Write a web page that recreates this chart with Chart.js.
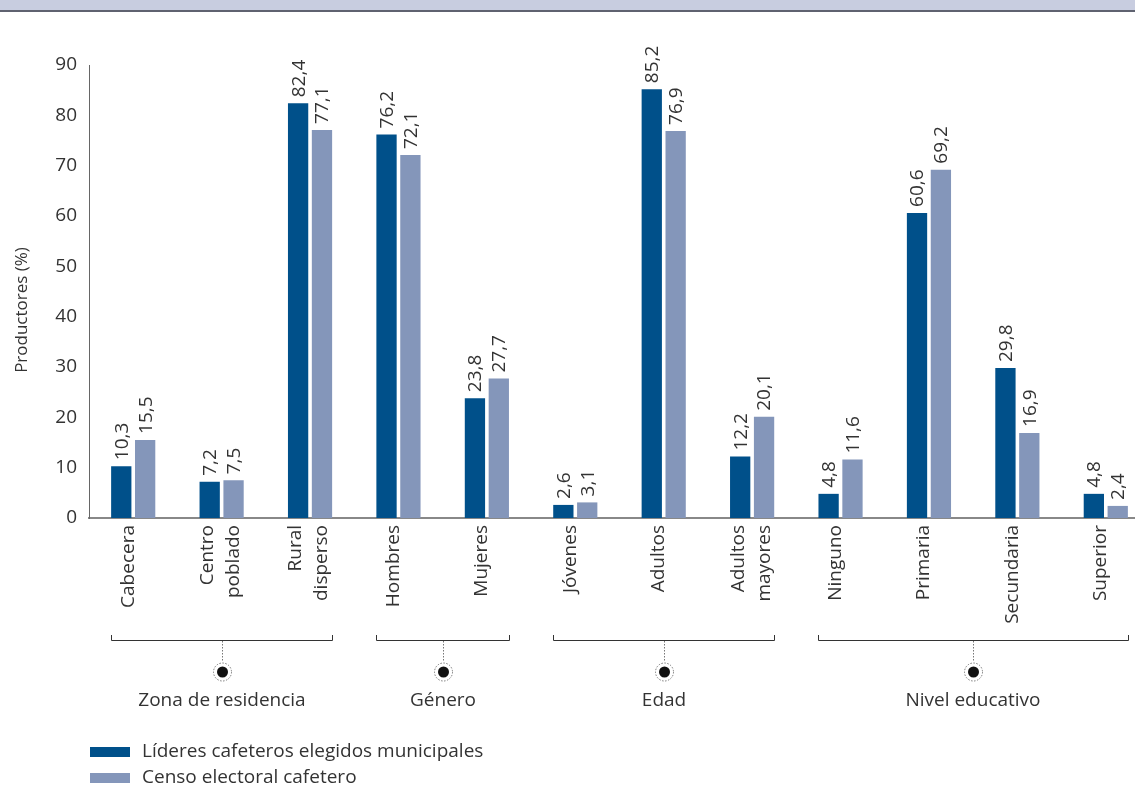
<!DOCTYPE html>
<html>
<head>
<meta charset="utf-8">
<script src="https://cdn.jsdelivr.net/npm/chart.js@4"></script>
<style>
  html, body { margin: 0; padding: 0; background: #fff; overflow: hidden; }
  #wrap { position: relative; width: 1135px; height: 793px; overflow: hidden; }
  #banda { position: absolute; left: 0; top: 0; width: 1135px; height: 10px; background: #c8cde0; border-bottom: 2px solid #5f6270; }
  #Chart { position: absolute; left: 0; top: 0; }
</style>
</head>
<body>
<div id="wrap">
  <canvas id="Chart" width="1150" height="793"></canvas>
  <div id="banda"></div>
</div>
<script>
const categorias = [
  ["Cabecera"], ["Centro", "poblado"], ["Rural", "disperso"],
  ["Hombres"], ["Mujeres"],
  ["Jóvenes"], ["Adultos"], ["Adultos", "mayores"],
  ["Ninguno"], ["Primaria"], ["Secundaria"], ["Superior"],
];
const lideres = [10.3, 7.2, 82.4, 76.2, 23.8, 2.6, 85.2, 12.2, 4.8, 60.6, 29.8, 4.8];
const censo = [15.5, 7.5, 77.1, 72.1, 27.7, 3.1, 76.9, 20.1, 11.6, 69.2, 16.9, 2.4];
const grupos = [
  { nombre: "Zona de residencia", desde: 0, hasta: 2 },
  { nombre: "Género", desde: 3, hasta: 4 },
  { nombre: "Edad", desde: 5, hasta: 7 },
  { nombre: "Nivel educativo", desde: 8, hasta: 11 },
];
const yTicks = [0, 10, 20, 30, 40, 50, 60, 70, 80, 90];
const tituloY = "Productores (%)";

const fuente = "'Open Sans', 'Noto Sans', sans-serif";
const colorTexto = "#333";
const azulOscuro = "#00508a";
const azulClaro = "#8496ba";

// valores encima de las barras, en vertical
const etiquetasBarras = {
  id: "etiquetasBarras",
  afterDatasetsDraw(chart) {
    const ctx = chart.ctx;
    ctx.save();
    ctx.font = "19px " + fuente;
    ctx.fillStyle = colorTexto;
    ctx.textAlign = "left";
    ctx.textBaseline = "middle";
    chart.data.datasets.forEach((ds, i) => {
      chart.getDatasetMeta(i).data.forEach((bar, j) => {
        const txt = ds.data[j].toFixed(1).replace(".", ",");
        ctx.save();
        ctx.translate(bar.x + 1, bar.y - 6);
        ctx.rotate(-Math.PI / 2);
        ctx.fillText(txt, 0, 0);
        ctx.restore();
      });
    });
    ctx.restore();
  },
};

// etiquetas del eje x (verticales) y titulo del eje y
const textosEjes = {
  id: "textosEjes",
  afterDraw(chart) {
    const ctx = chart.ctx;
    const xs = chart.scales.x;
    ctx.save();
    ctx.fillStyle = colorTexto;
    ctx.font = "19px " + fuente;
    ctx.textAlign = "right";
    ctx.textBaseline = "middle";
    categorias.forEach((lineas, i) => {
      const xc = xs.getPixelForTick(i);
      const desp = lineas.length === 1 ? [-5] : [-14, 12];
      lineas.forEach((t, k) => {
        ctx.save();
        ctx.translate(xc + desp[k], chart.chartArea.bottom + 7);
        ctx.rotate(-Math.PI / 2);
        ctx.fillText(t, 0, 0);
        ctx.restore();
      });
    });
    ctx.font = "17px " + fuente;
    ctx.textAlign = "center";
    ctx.save();
    ctx.translate(22, 310);
    ctx.rotate(-Math.PI / 2);
    ctx.fillText(tituloY, 0, 0);
    ctx.restore();
    ctx.restore();
  },
};

// llaves de grupo, punto y leyenda
const decoracion = {
  id: "decoracion",
  afterDraw(chart) {
    const ctx = chart.ctx;
    const m0 = chart.getDatasetMeta(0).data;
    const m1 = chart.getDatasetMeta(1).data;
    const yLinea = 640;
    ctx.save();
    grupos.forEach((g) => {
      const x1 = Math.round(m0[g.desde].x - m0[g.desde].width / 2);
      const x2 = Math.round(m1[g.hasta].x + m1[g.hasta].width / 2);
      const xc = Math.round((x1 + x2) / 2);
      ctx.strokeStyle = "#333";
      ctx.lineWidth = 1;
      ctx.setLineDash([]);
      ctx.beginPath();
      ctx.moveTo(x1 + 0.5, yLinea - 5);
      ctx.lineTo(x1 + 0.5, yLinea + 0.5);
      ctx.lineTo(x2 + 0.5, yLinea + 0.5);
      ctx.lineTo(x2 + 0.5, yLinea - 5);
      ctx.stroke();
      ctx.strokeStyle = "#777";
      ctx.setLineDash([1.5, 1.5]);
      ctx.beginPath();
      ctx.moveTo(xc + 0.5, yLinea + 1);
      ctx.lineTo(xc + 0.5, 662);
      ctx.stroke();
      ctx.beginPath();
      ctx.arc(xc + 0.5, 672, 9, 0, Math.PI * 2);
      ctx.stroke();
      ctx.setLineDash([]);
      ctx.fillStyle = "#111";
      ctx.beginPath();
      ctx.arc(xc + 0.5, 672, 5.5, 0, Math.PI * 2);
      ctx.fill();
      ctx.fillStyle = colorTexto;
      ctx.font = "19px " + fuente;
      ctx.textAlign = "center";
      ctx.textBaseline = "middle";
      ctx.fillText(g.nombre, xc, 701);
    });
    // leyenda
    chart.data.datasets.forEach((ds, i) => {
      const y = 752 + i * 26;
      ctx.fillStyle = ds.backgroundColor;
      ctx.fillRect(90, y - 5, 40, 10);
      ctx.fillStyle = colorTexto;
      ctx.font = "19px " + fuente;
      ctx.textAlign = "left";
      ctx.textBaseline = "middle";
      ctx.fillText(ds.label, 142, y);
    });
    ctx.restore();
  },
};

const ctx = document.getElementById("Chart").getContext("2d");
new Chart(ctx, {
  type: "bar",
  data: {
    labels: categorias,
    datasets: [
      { label: "Líderes cafeteros elegidos municipales", data: lideres, backgroundColor: azulOscuro },
      { label: "Censo electoral cafetero", data: censo, backgroundColor: azulClaro },
    ],
  },
  options: {
    responsive: false,
    animation: false,
    categoryPercentage: 0.54,
    barPercentage: 0.85,
    layout: { padding: { top: 65, bottom: 155, left: 0, right: 0 } },
    scales: {
      x: {
        grid: { display: false, drawTicks: false },
        border: { display: true, color: "#888", width: 2 },
        ticks: { display: false },
        afterFit: (scale) => { scale.height = 120; },
      },
      y: {
        min: 0,
        max: 90,
        afterBuildTicks: (scale) => { scale.ticks = yTicks.map((v) => ({ value: v })); },
        grid: { display: false, drawTicks: false },
        border: { display: true, color: "#666", width: 1 },
        ticks: {
          padding: 12,
          color: colorTexto,
          font: { family: fuente, size: 19 },
        },
        afterFit: (scale) => { scale.width = 89; },
      },
    },
    plugins: {
      legend: { display: false },
      tooltip: { enabled: false },
    },
  },
  plugins: [etiquetasBarras, textosEjes, decoracion],
});
</script>
</body>
</html>
